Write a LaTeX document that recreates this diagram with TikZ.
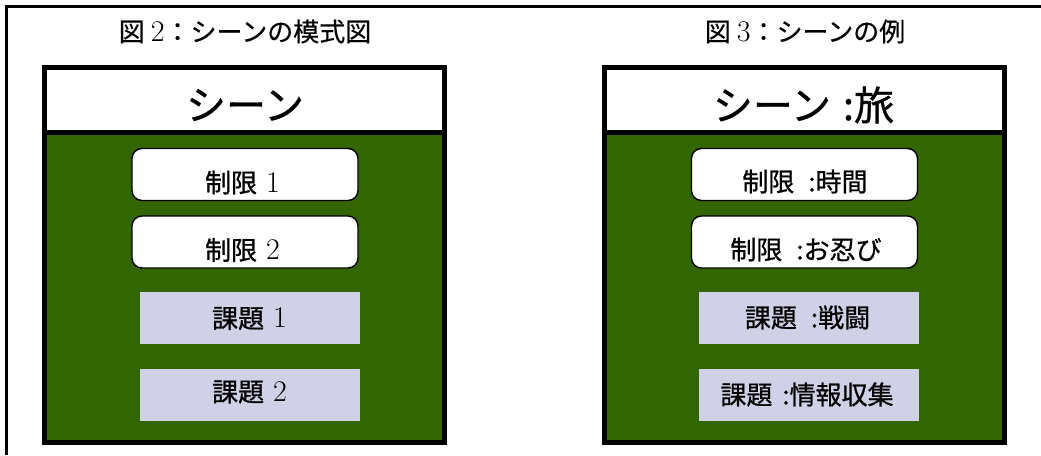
\documentclass[tikz,border=0pt]{standalone}
\usepackage{fontspec}
\newfontfamily\cjk[FakeBold=0.8]{Noto Sans CJK JP}
\newfontfamily\cjkt[FakeBold=0.4]{Noto Sans CJK JP}
\definecolor{scenegreen}{RGB}{51,102,0}
\definecolor{tasklav}{RGB}{208,208,230}
\newcommand{\dg}[1]{{\rmfamily\fontsize{30}{34}\selectfont #1}}
\begin{document}
\begin{tikzpicture}[x=1pt,y=-1pt,
  frameline/.style={line width=3pt},
  panelline/.style={draw=black,line width=5pt},
  limitbox/.style={draw=black,line width=1.4pt,fill=white,rounded corners=10pt,minimum width=226pt,minimum height=52pt,inner sep=0pt},
  taskbox/.style={fill=tasklav,minimum width=220pt,minimum height=52pt,inner sep=0pt},
  lbl/.style={font=\cjk\fontsize{26}{30}\selectfont,inner sep=0pt,anchor=center},
  ttl/.style={font=\cjkt\fontsize{26}{30}\selectfont,inner sep=0pt,anchor=center},
  head/.style={font=\cjk\fontsize{40}{46}\selectfont,inner sep=0pt,anchor=center}]
\useasboundingbox (0,0) rectangle (1041,455);
\fill[white] (0,0) rectangle (1041,455);
% outer frame
\coordinate (fbl) at (6.5,455);
\coordinate (ftl) at (6.5,6.5);
\coordinate (ftr) at (1041,6.5);
\draw[frameline] (fbl) -- (ftl) -- (ftr);
% panels
\foreach \dx/\nm in {0/L,560/R}{
  \fill[scenegreen] (44.5+\dx,132.5) rectangle (444+\dx,442.5);
  \fill[white] (44.5+\dx,67.5) rectangle (444+\dx,132.5);
  \draw[line width=5pt] (44.5+\dx,132.5) -- (444+\dx,132.5);
  \draw[panelline] (44.5+\dx,67.5) rectangle (444+\dx,442.5);
}
% left panel
\node[ttl] (t2) at (245,31.5) {図\hspace{6pt}\dg{2}：シーンの模式図};
\node[head] (h2) at (245,105) {シーン};
\node[limitbox] (la1) at (245,174.5) {};
\node[limitbox] (la2) at (245,242) {};
\node[taskbox] (ka1) at (249.5,318) {};
\node[taskbox] (ka2) at (249.5,394.5) {};
\node[lbl] (lat1) at (242.5,182.5) {制限\hspace{9pt}\dg{1}};
\node[lbl] (lat2) at (242.5,250) {制限\hspace{9pt}\dg{2}};
\node[lbl] (kat1) at (249.5,318.5) {課題\hspace{9pt}\dg{1}};
\node[lbl] (kat2) at (249.5,392) {課題\hspace{9pt}\dg{2}};
% right panel
\node[ttl] (t3) at (805,31.5) {図\hspace{6pt}\dg{3}：シーンの例};
\node[head] (h3) at (803.5,105) {シーン\hspace{12pt}:旅};
\node[limitbox] (lb1) at (804.5,174.5) {};
\node[limitbox] (lb2) at (804.5,242) {};
\node[taskbox] (kb1) at (808.5,318) {};
\node[taskbox] (kb2) at (808.5,394.5) {};
\node[lbl] (lbt1) at (805,181.5) {制限\hspace{14pt}:時間};
\node[lbl] (lbt2) at (806,249.5) {制限\hspace{14pt}:お忍び};
\node[lbl] (kbt1) at (807.5,317.5) {課題\hspace{14pt}:戦闘};
\node[lbl] (kbt2) at (807,394.5) {課題\hspace{10pt}:情報収集};
\end{tikzpicture}
\end{document}
